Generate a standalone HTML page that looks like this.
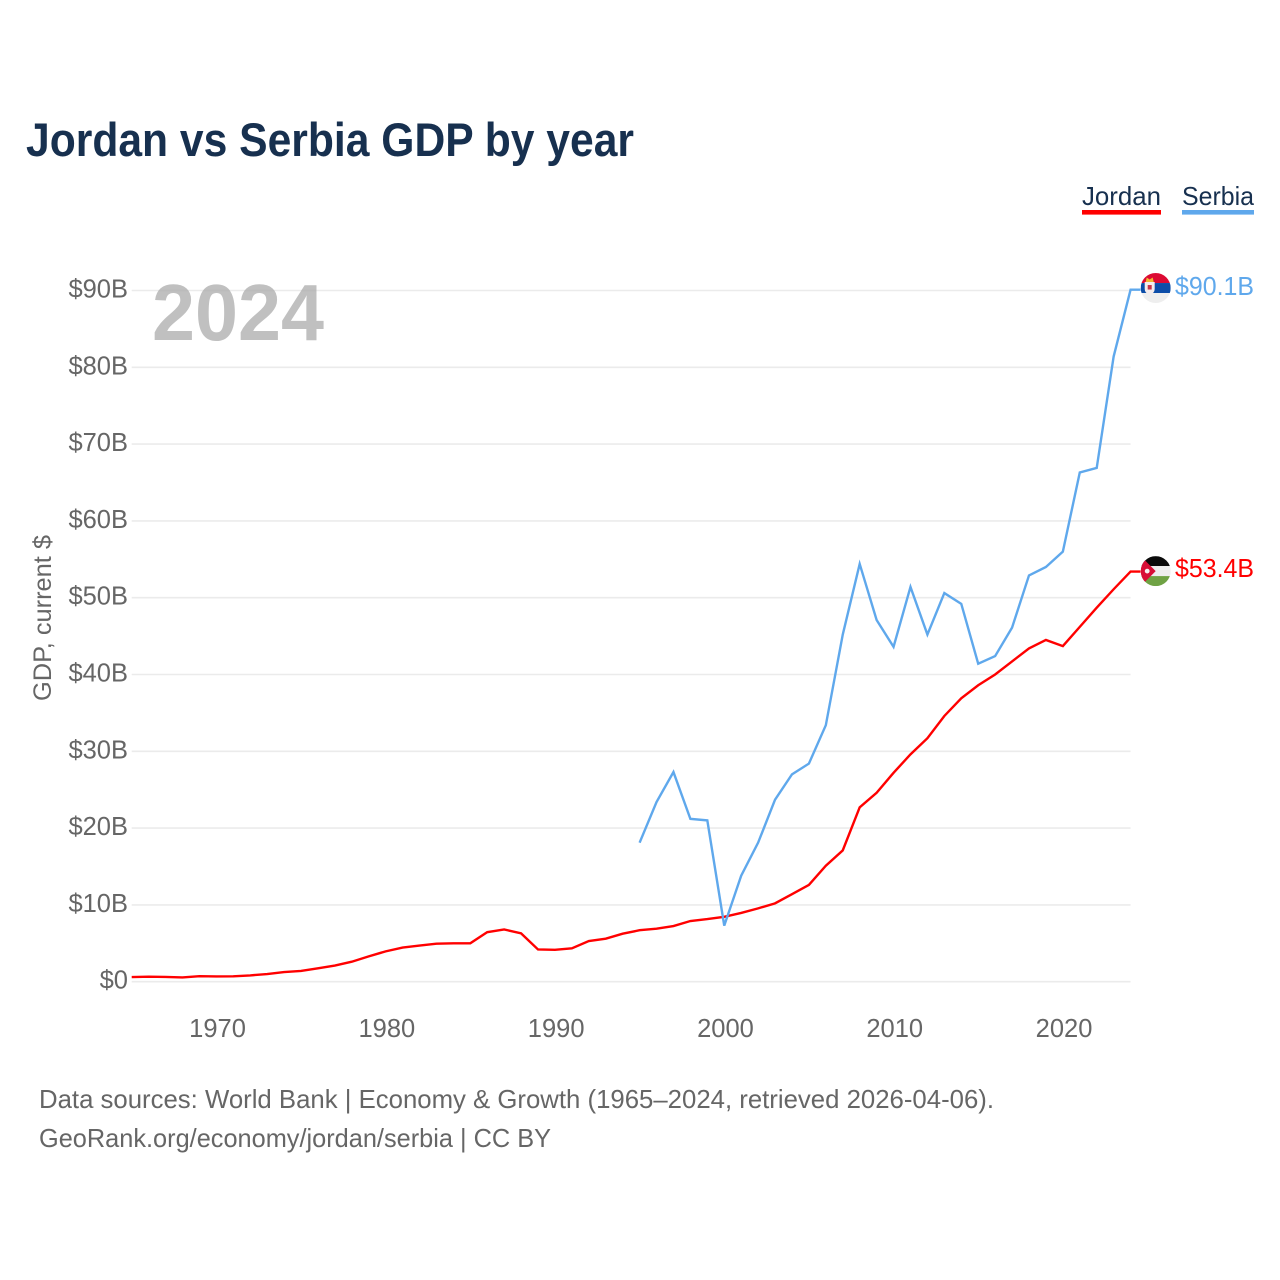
<!DOCTYPE html>
<html lang="en">
<head>
<meta charset="utf-8">
<title>Jordan vs Serbia GDP by year</title>
<style>
html,body{margin:0;padding:0;background:#fff;}
svg{display:block;font-family:"Liberation Sans",sans-serif;}
</style>
</head>
<body>
<svg id="chart" xmlns="http://www.w3.org/2000/svg" width="1280" height="1280" viewBox="0 0 1280 1280">
  <defs>
    <clipPath id="flag-clip"><circle cx="0" cy="0" r="15"></circle></clipPath>
  </defs>
  <rect x="0" y="0" width="1280" height="1280" fill="#fff"></rect>
  <text x="26" y="156" font-size="47" font-weight="700" fill="#17304f" textLength="608" lengthAdjust="spacingAndGlyphs">Jordan vs Serbia GDP by year</text>

  <g>
    <g>
      <text x="1082" y="205" font-size="26" fill="#17304f" textLength="79" lengthAdjust="spacingAndGlyphs">Jordan</text>
      <rect x="1082" y="210" width="79" height="4.6" fill="#ff0000"></rect>
    </g>
    <g>
      <text x="1182" y="205" font-size="26" fill="#17304f" textLength="72" lengthAdjust="spacingAndGlyphs">Serbia</text>
      <rect x="1182" y="210" width="72" height="4.6" fill="#5fa8ec"></rect>
    </g>
  </g>

  <g id="grid"></g>
  <text x="152" y="340" font-size="80" font-weight="700" fill="#a8a8a8" fill-opacity="0.72" textLength="172" lengthAdjust="spacingAndGlyphs">2024</text>
  <g id="y-axis"></g>
  <g id="x-axis"></g>
  <text transform="translate(51 618) rotate(-90)" text-anchor="middle" font-size="25" fill="#666" textLength="166" lengthAdjust="spacingAndGlyphs">GDP, current $</text>
  <g id="series"></g>

  <g id="flag-serbia">
    <g clip-path="url(#flag-clip)">
      <rect x="-15" y="-15" width="30" height="10" fill="#dc0a33"></rect>
      <rect x="-15" y="-5" width="30" height="10" fill="#0c4da8"></rect>
      <rect x="-15" y="5" width="30" height="10" fill="#eeeeee"></rect>
      <path d="M-10 -6 L-9 -10.5 L-6 -8.5 L-3 -10.5 L-2 -6 Z" fill="#f2b632"></path>
      <path d="M-11 -6 H-1 V1 Q-1 5 -6 7 Q-11 5 -11 1 Z" fill="#f4ecec"></path>
      <rect x="-8" y="-3" width="4" height="4.5" fill="#c8324a"></rect>
    </g>
  </g>
  <g id="flag-jordan">
    <g clip-path="url(#flag-clip)">
      <rect x="-15" y="-15" width="30" height="10" fill="#0a0a0a"></rect>
      <rect x="-15" y="-5" width="30" height="10" fill="#eeeeee"></rect>
      <rect x="-15" y="5" width="30" height="10" fill="#6fa244"></rect>
      <path d="M-15 -15 L0 0 L-15 15 Z" fill="#d80e36"></path>
      <circle cx="-8.5" cy="0" r="2.4" fill="#f4f0f0"></circle>
    </g>
  </g>
  <g id="end-labels"></g>

  <text x="39" y="1108" font-size="26" fill="#666" textLength="955" lengthAdjust="spacingAndGlyphs">Data sources: World Bank | Economy &amp; Growth (1965–2024, retrieved 2026-04-06).</text>
  <text x="39" y="1147" font-size="26" fill="#666" textLength="512" lengthAdjust="spacingAndGlyphs">GeoRank.org/economy/jordan/serbia | CC BY</text>
</svg>
<script>
const yTickValues = [0, 10, 20, 30, 40, 50, 60, 70, 80, 90];
const yTickLabels = ["$0", "$10B", "$20B", "$30B", "$40B", "$50B", "$60B", "$70B", "$80B", "$90B"];
const xTickValues = [1970, 1980, 1990, 2000, 2010, 2020];
const xTickLabels = ["1970", "1980", "1990", "2000", "2010", "2020"];
const jordanStartYear = 1965;
const jordanValues = [0.6, 0.65, 0.62, 0.55, 0.72, 0.68, 0.7, 0.82, 1.0, 1.25, 1.4, 1.75, 2.1, 2.6, 3.3, 3.95, 4.45, 4.7, 4.95, 5.0, 5.0, 6.45, 6.8, 6.3, 4.2, 4.15, 4.35, 5.3, 5.6, 6.25, 6.7, 6.9, 7.25, 7.9, 8.15, 8.45, 8.95, 9.55, 10.2, 11.4, 12.6, 15.1, 17.1, 22.7, 24.6, 27.2, 29.6, 31.7, 34.6, 36.9, 38.6, 40.0, 41.7, 43.4, 44.5, 43.7, 46.2, 48.7, 51.1, 53.4];
const serbiaStartYear = 1995;
const serbiaValues = [18.1, 23.4, 27.3, 21.2, 21.0, 7.3, 13.8, 18.1, 23.7, 27.0, 28.4, 33.4, 45.2, 54.4, 47.1, 43.6, 51.4, 45.2, 50.6, 49.2, 41.4, 42.4, 46.1, 52.9, 54.0, 56.0, 66.3, 66.9, 81.4, 90.1];

const SVG_NS = "http://www.w3.org/2000/svg";
function xScale(year) { return 131.7 + (year - 1965) * 16.93; }
function yScale(value) { return 981.7 - value * 7.68; }
const plotLeft = xScale(1965);
const plotRight = xScale(2024);
const leaderEnd = plotRight + 10;

function make(tag, attrs, parent) {
  const el = document.createElementNS(SVG_NS, tag);
  Object.keys(attrs).forEach(function (k) { el.setAttribute(k, attrs[k]); });
  parent.appendChild(el);
  return el;
}

const gridGroup = document.getElementById("grid");
const yAxisGroup = document.getElementById("y-axis");
yTickValues.forEach(function (v, i) {
  const line = make("line", { x1: plotLeft, x2: plotRight, y1: yScale(v), y2: yScale(v), stroke: "#ebebeb", "stroke-width": 1.6 }, gridGroup);
  
  
  const label = make("text", { x: 128, y: yScale(v) + 7, "text-anchor": "end", "font-size": 25.5, fill: "#666" }, yAxisGroup);
  
  
  label.textContent = yTickLabels[i];
});

const xAxisGroup = document.getElementById("x-axis");
xTickValues.forEach(function (v, i) {
  const label = make("text", { x: xScale(v) + 1.2, y: 1037, "text-anchor": "middle", "font-size": 25.5, fill: "#666" }, xAxisGroup);
  
  
  label.textContent = xTickLabels[i];
});

function linePoints(startYear, values) {
  const pts = values.map(function (v, i) { return xScale(startYear + i).toFixed(2) + "," + yScale(v).toFixed(2); });
  pts.push(leaderEnd.toFixed(2) + "," + yScale(values[values.length - 1]).toFixed(2));
  return pts.join(" ");
}

const seriesGroup = document.getElementById("series");
const jordanLine = make("polyline", { points: linePoints(jordanStartYear, jordanValues), fill: "none", stroke: "#ff0000", "stroke-width": 2.4, "stroke-linejoin": "miter" }, seriesGroup);


const serbiaLine = make("polyline", { points: linePoints(serbiaStartYear, serbiaValues), fill: "none", stroke: "#5fa8ec", "stroke-width": 2.4, "stroke-linejoin": "miter" }, seriesGroup);



const jordanLast = jordanValues[jordanValues.length - 1];
const serbiaLast = serbiaValues[serbiaValues.length - 1];
document.getElementById("flag-jordan").setAttribute("transform", "translate(1155.7 " + (yScale(jordanLast) - 0.5) + ")");
document.getElementById("flag-serbia").setAttribute("transform", "translate(1155.7 " + (yScale(serbiaLast) - 1.7) + ")");

const endLabels = document.getElementById("end-labels");
const jordanEnd = make("text", { x: 1175, y: yScale(jordanLast) + 5.2, "font-size": 25.5, fill: "#ff0000", textLength: 79, lengthAdjust: "spacingAndGlyphs" }, endLabels);


jordanEnd.textContent = "$" + jordanLast.toFixed(1) + "B";
const serbiaEnd = make("text", { x: 1175, y: yScale(serbiaLast) + 5.2, "font-size": 25.5, fill: "#5fa8ec", textLength: 79, lengthAdjust: "spacingAndGlyphs" }, endLabels);


serbiaEnd.textContent = "$" + serbiaLast.toFixed(1) + "B";
</script>
</body>
</html>
